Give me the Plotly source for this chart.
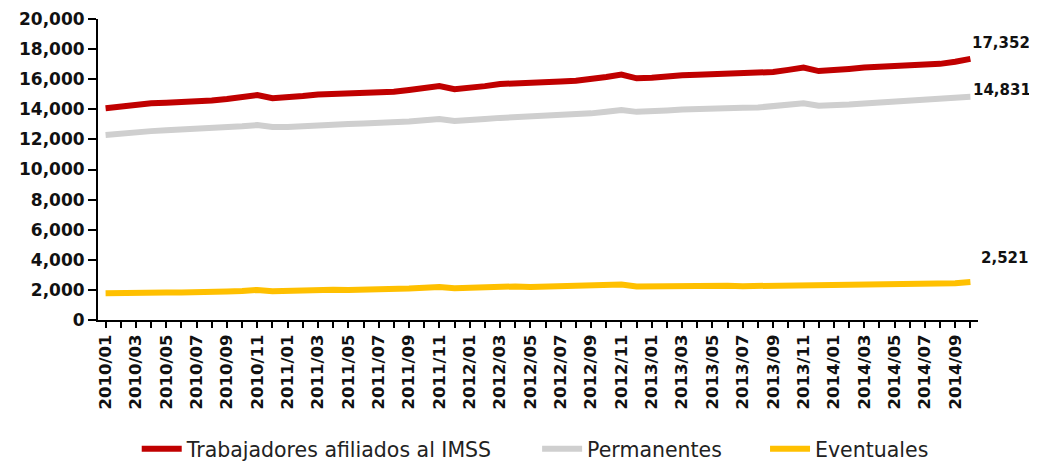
import plotly.graph_objects as go

months = [f"{y}/{m:02d}" for y in range(2010, 2015) for m in range(1, 13)][:58]

total = [14070,14200,14330,14400,14430,14460,14500,14580,14680,14800,14950,14740,
         14780,14880,14980,15000,15020,15060,15100,15160,15280,15420,15540,15340,
         15420,15540,15680,15700,15720,15800,15850,15900,16000,16150,16310,16060,
         16090,16200,16260,16300,16340,16350,16350,16380,16480,16620,16770,16540,
         16560,16680,16770,16820,16870,16910,16940,17020,17160,17352]

permanentes = [12300,12400,12480,12550,12600,12640,12680,12730,12790,12870,12950,12830,
               12830,12900,12970,12990,13020,13060,13080,13130,13190,13270,13350,13230,
               13260,13350,13430,13470,13520,13580,13620,13660,13730,13840,13950,13830,
               13840,13920,13980,14030,14060,14080,14100,14120,14190,14290,14400,14240,
               14250,14320,14390,14450,14510,14550,14580,14630,14720,14831]

eventuales = [1770,1800,1850,1850,1830,1820,1820,1850,1890,1930,2000,1910,
              1950,1980,2010,2010,2000,2000,2020,2030,2090,2150,2190,2110,
              2160,2190,2250,2230,2200,2220,2230,2240,2270,2310,2360,2230,
              2250,2280,2280,2270,2280,2270,2250,2260,2290,2330,2370,2300,
              2310,2360,2380,2370,2360,2360,2360,2390,2440,2521]

# name, values, colour, legend id, legend x (paper), label xshift, label yshift
series = [
    ("Trabajadores afiliados al IMSS", total, "#C00000", "legend", 0.044, 0, 16),
    ("Permanentes", permanentes, "#CFCFCF", "legend2", 0.499, 1, 7),
    ("Eventuales", eventuales, "#FFC000", "legend3", 0.758, 9, 24),
]

fig = go.Figure()
for name, vals, color, lg, _, _, _ in series:
    fig.add_trace(go.Scatter(x=months, y=vals, name=name, mode="lines", legend=lg,
                             line=dict(color=color, width=6)))

bold = dict(family="DejaVu Sans", size=15, color="#111111", weight="bold")
for name, vals, color, lg, lx, xs, ys in series:
    fig.add_annotation(x=months[-1], y=vals[-1], text=f"{vals[-1]:,}",
                       showarrow=False, xanchor="left", yanchor="middle",
                       xshift=xs, yshift=ys, font=bold)

legend_font = dict(family="DejaVu Sans", size=20.5, color="#222222")
legends = {}
for name, vals, color, lg, lx, xs, ys in series:
    legends[lg] = dict(orientation="h", x=lx, xanchor="left", y=-0.4286, yanchor="middle",
                       font=legend_font, itemwidth=40, bgcolor="rgba(0,0,0,0)")

# page body has an 8px default margin; figure sized to fit the 1037x462 window
fig.update_layout(
    width=1029, height=454,
    margin=dict(l=90, r=59, t=11, b=142, autoexpand=False),
    paper_bgcolor="white", plot_bgcolor="white",
    showlegend=True,
    **legends,
    xaxis=dict(type="category", categoryorder="array", categoryarray=months,
               range=[-0.5, len(months) - 0.5], automargin=False,
               tickmode="array", tickvals=months[::2], ticktext=months[::2],
               tickangle=-90, ticks="", ticklabelstandoff=6,
               minor=dict(ticks="outside", tick0=-0.5, dtick=1, ticklen=6,
                          tickcolor="black", tickwidth=1.5),
               showline=True, linecolor="black", linewidth=2,
               showgrid=False, zeroline=False,
               tickfont=dict(family="DejaVu Sans", size=16.5, color="#111111", weight="bold")),
    yaxis=dict(range=[0, 20000], dtick=2000, tickformat=",", automargin=False,
               ticks="outside", ticklen=8, tickcolor="black", tickwidth=1.5,
               showline=True, linecolor="black", linewidth=2,
               showgrid=False, zeroline=False,
               tickfont=dict(family="DejaVu Sans", size=17, color="#111111", weight="bold")),
)

fig.write_html("out.html")
